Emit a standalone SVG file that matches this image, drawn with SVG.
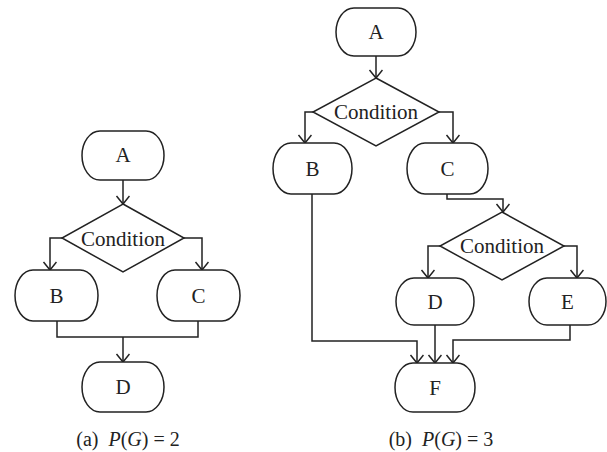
<svg xmlns="http://www.w3.org/2000/svg" width="607" height="452" viewBox="0 0 607 452">
<style>
.n{fill:#fff;stroke:#222;stroke-width:1.5}
.c{fill:none;stroke:#222;stroke-width:1.5}
text{font-family:'Liberation Serif','DejaVu Serif','Times New Roman',serif;fill:#222;text-anchor:middle}
.t{font-size:21px}
.cap{font-size:20px}
.i{font-style:italic}
</style>
<defs>
<marker id="ar" markerUnits="userSpaceOnUse" markerWidth="12" markerHeight="16" refX="9" refY="7" orient="auto">
<path d="M1,0.5 L9,7 L1,13.5" fill="none" stroke="#222" stroke-width="1.5"/>
</marker>
</defs>
<rect width="607" height="452" fill="#fff"/>
<g id="connectors">
<path class="c" d="M123,180 V204" marker-end="url(#ar)"/>
<path class="c" d="M62,238 H50 V270" marker-end="url(#ar)"/>
<path class="c" d="M184,238 H202 V270" marker-end="url(#ar)"/>
<path class="c" d="M57,321 V337 H198 V321"/>
<path class="c" d="M123,337 V362" marker-end="url(#ar)"/>
<path class="c" d="M376,56 V78" marker-end="url(#ar)"/>
<path class="c" d="M313,112 H305 V143" marker-end="url(#ar)"/>
<path class="c" d="M439,112 H453 V143" marker-end="url(#ar)"/>
<path class="c" d="M447,194 V199 H503 V212" marker-end="url(#ar)"/>
<path class="c" d="M440,246 H428 V278" marker-end="url(#ar)"/>
<path class="c" d="M564,246 H577 V278" marker-end="url(#ar)"/>
<path class="c" d="M435,325 V363" marker-end="url(#ar)"/>
<path class="c" d="M312,194 V341 H417 V363" marker-end="url(#ar)"/>
<path class="c" d="M570,325 V340 H453 V363" marker-end="url(#ar)"/>
</g>
<g id="a_A"><rect class="n" x="82" y="131" width="82" height="49" rx="18" ry="24.5"/><text class="t" x="123" y="162">A</text></g>
<g id="a_cond"><polygon class="n" points="123,204 184,238 123,272 62,238"/><text class="t" x="123" y="246">Condition</text></g>
<g id="a_B"><rect class="n" x="15" y="270" width="83" height="51" rx="18" ry="25.5"/><text class="t" x="56.5" y="303">B</text></g>
<g id="a_C"><rect class="n" x="157" y="270" width="83" height="51" rx="18" ry="25.5"/><text class="t" x="198.5" y="303">C</text></g>
<g id="a_D"><rect class="n" x="82" y="362" width="82" height="50" rx="18" ry="25"/><text class="t" x="123" y="394">D</text></g>
<g id="b_A"><rect class="n" x="336" y="8" width="80" height="48" rx="18" ry="24"/><text class="t" x="376" y="39">A</text></g>
<g id="b_cond1"><polygon class="n" points="376,78 439,112 376,146 313,112"/><text class="t" x="376" y="119">Condition</text></g>
<g id="b_B"><rect class="n" x="273" y="143" width="79" height="51" rx="18" ry="25.5"/><text class="t" x="312.5" y="176">B</text></g>
<g id="b_C"><rect class="n" x="407" y="143" width="81" height="51" rx="18" ry="25.5"/><text class="t" x="447.5" y="176">C</text></g>
<g id="b_cond2"><polygon class="n" points="502,212 564,246 502,280 440,246"/><text class="t" x="502" y="253">Condition</text></g>
<g id="b_D"><rect class="n" x="396" y="278" width="78" height="47" rx="18" ry="23.5"/><text class="t" x="435" y="309">D</text></g>
<g id="b_E"><rect class="n" x="529" y="278" width="77" height="47" rx="18" ry="23.5"/><text class="t" x="567.5" y="309">E</text></g>
<g id="b_F"><rect class="n" x="395" y="363" width="80" height="49" rx="18" ry="24.5"/><text class="t" x="435" y="395">F</text></g>
<g id="captions">
<text class="cap" x="128" y="446">(a)<tspan dx="10" class="i">P</tspan>(<tspan class="i">G</tspan>) = 2</text>
<text class="cap" x="441" y="446">(b)<tspan dx="10" class="i">P</tspan>(<tspan class="i">G</tspan>) = 3</text>
</g>
</svg>
